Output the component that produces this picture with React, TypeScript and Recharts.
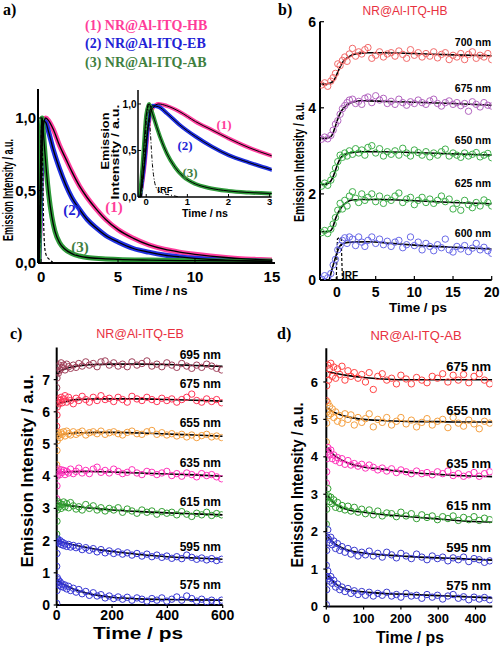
import React from "react";
import { ComposedChart, Line, Scatter, XAxis, YAxis, Label } from "recharts";

const SANS = "'Liberation Sans', Arial, sans-serif";
const SERIF = "'Liberation Serif', 'Times New Roman', serif";
const TITLE_RED = "#e8313f";

// ---------- panel a: TCSPC decays (ns)
const aTimes = [-0.15, -0.05, 0.05, 0.15, 0.3, 0.5, 0.8, 1.2, 1.6, 2.0, 2.5, 3.0, 3.6, 4.2, 5.0, 6.0, 7.0, 8.0, 9.0, 10, 11, 12, 13, 14, 15];
const hbDecay = [0, 0.3, 0.75, 0.95, 1.0, 0.98, 0.92, 0.81, 0.72, 0.63, 0.53, 0.45, 0.37, 0.3, 0.23, 0.17, 0.125, 0.095, 0.075, 0.06, 0.048, 0.038, 0.03, 0.025, 0.02];
const ebDecay = [0, 0.35, 0.8, 0.98, 0.97, 0.9, 0.78, 0.65, 0.54, 0.45, 0.37, 0.3, 0.24, 0.19, 0.145, 0.1, 0.075, 0.055, 0.042, 0.032, 0.025, 0.02, 0.016, 0.013, 0.01];
const abTimes = [-0.15, -0.08, 0.0, 0.07, 0.15, 0.25, 0.35, 0.5, 0.7, 0.9, 1.2, 1.5, 2.0, 2.5, 3.0, 4.0, 5.0, 7.0, 10, 15];
const abDecay = [0, 0.4, 0.88, 1.0, 0.9, 0.76, 0.63, 0.47, 0.32, 0.22, 0.14, 0.1, 0.065, 0.048, 0.038, 0.03, 0.025, 0.02, 0.016, 0.013];
const irfTimesA = [-0.12, -0.06, 0.0, 0.05, 0.1, 0.15, 0.2, 0.27, 0.4, 0.6, 0.8];
const irfA = [0, 0.3, 0.8, 1.0, 0.7, 0.35, 0.17, 0.08, 0.04, 0.02, 0];

// ---------- panel b: NR@Al-ITQ-HB (ps)
const bTimes = [-2, -1.6, -1.2, -0.8, -0.5, -0.2, 0.1, 0.4, 0.7, 1, 1.3, 1.6, 2, 2.4, 2.8, 3.2, 3.6, 4, 4.5, 5, 5.5, 6, 6.5, 7, 7.5, 8, 8.5, 9, 9.5, 10, 10.5, 11, 11.5, 12, 12.5, 13, 13.5, 14, 14.5, 15, 15.5, 16, 16.5, 17, 17.5, 18, 18.5, 19, 19.5, 20];
const b700 = [4.53, 4.58, 4.5, 4.62, 4.7, 4.8, 5.02, 4.98, 5.1, 5.18, 5.08, 5.25, 5.38, 5.2, 5.3, 5.25, 5.35, 5.4, 5.15, 5.22, 5.3, 5.18, 5.25, 5.28, 5.2, 5.32, 5.24, 5.15, 5.35, 5.22, 5.28, 5.18, 5.26, 5.2, 5.3, 5.16, 5.24, 5.28, 5.12, 5.22, 5.18, 5.26, 5.12, 5.24, 5.3, 5.15, 5.22, 5.18, 5.26, 5.12];
const b675 = [3.27, 3.32, 3.28, 3.36, 3.48, 3.62, 3.7, 3.85, 3.98, 4.05, 4.12, 4.18, 4.2, 4.1, 4.15, 4.08, 4.22, 4.25, 4.12, 4.28, 4.18, 4.22, 4.1, 4.15, 4.08, 4.2, 4.12, 4.06, 4.14, 4.1, 4.18, 4.12, 4.08, 4.16, 4.2, 4.1, 4.04, 4.12, 4.16, 4.08, 4.12, 4.05, 4.1, 3.92, 4.14, 4.08, 4.02, 4.12, 4.06, 4.04];
const b650 = [2.18, 2.25, 2.2, 2.32, 2.45, 2.6, 2.75, 2.9, 2.85, 2.95, 2.88, 3.0, 2.92, 3.05, 2.95, 3.02, 2.9, 3.08, 3.12, 2.95, 3.05, 2.88, 2.98, 2.92, 3.0, 2.9, 3.06, 2.95, 2.88, 3.02, 2.96, 2.9, 2.98, 2.86, 2.95, 2.9, 2.98, 3.04, 2.88, 2.95, 2.9, 2.85, 2.95, 2.88, 2.92, 2.96, 2.86, 2.9, 2.94, 2.84];
const b625 = [1.1, 1.15, 1.08, 1.18, 1.3, 1.45, 1.62, 1.78, 1.65, 1.85, 1.72, 1.95, 2.05, 1.9, 1.8, 2.0, 1.85, 1.92, 2.0, 1.82, 1.95, 1.78, 1.9, 1.85, 1.95, 2.02, 1.8, 1.88, 1.92, 1.75, 1.85, 1.92, 1.8, 1.88, 1.78, 1.85, 1.95, 1.82, 1.88, 1.65, 1.78, 1.62, 1.85, 1.75, 1.68, 1.8, 1.72, 1.86, 1.8, 1.72];
const b600 = [0.02, 0.1, 0.05, 0.15, 0.35, 0.48, 0.7, 0.8, 0.92, 0.98, 0.85, 1.0, 0.95, 0.8, 1.0, 0.88, 0.78, 0.92, 1.0, 0.85, 0.95, 0.82, 0.9, 0.78, 0.88, 0.92, 0.75, 0.82, 1.0, 0.8, 0.88, 0.7, 0.85, 0.78, 0.68, 0.82, 0.75, 0.95, 0.7, 0.65, 0.78, 0.72, 0.8, 0.66, 0.74, 0.85, 0.7, 0.76, 0.68, 0.62];
const bFitTimes = [-2, -1.6, -1.2, -0.8, -0.5, -0.2, 0.1, 0.4, 0.7, 1.0, 1.3, 1.6, 2, 3, 4, 6, 10, 15, 20];
const b700Fit = [4.55, 4.55, 4.56, 4.58, 4.62, 4.7, 4.83, 4.95, 5.05, 5.12, 5.16, 5.19, 5.23, 5.27, 5.28, 5.28, 5.26, 5.23, 5.21];
const b675Fit = [3.29, 3.29, 3.3, 3.33, 3.42, 3.58, 3.74, 3.87, 3.96, 4.02, 4.07, 4.1, 4.13, 4.16, 4.16, 4.15, 4.13, 4.1, 4.06];
const b650Fit = [2.22, 2.22, 2.24, 2.3, 2.4, 2.55, 2.7, 2.82, 2.88, 2.92, 2.94, 2.95, 2.96, 2.98, 2.98, 2.98, 2.96, 2.93, 2.9];
const b625Fit = [1.12, 1.12, 1.12, 1.15, 1.25, 1.42, 1.55, 1.64, 1.72, 1.77, 1.81, 1.84, 1.86, 1.87, 1.87, 1.87, 1.84, 1.8, 1.77];
const b600FitTimes = [-1.0, -0.6, -0.3, 0, 0.3, 0.6, 1.0, 2, 4, 7, 10, 15, 20];
const b600Fit = [0, 0.28, 0.46, 0.64, 0.77, 0.83, 0.86, 0.88, 0.89, 0.85, 0.81, 0.76, 0.72];
const irfTimesB = [-0.1, 0, 0.05, 0.3, 0.55, 0.6, 0.7];
const irfB = [0, 0.6, 0.95, 0.99, 0.95, 0.6, 0];

// ---------- panel c: NR@Al-ITQ-EB (ps)
const cTimes = [0, 1, 2, 4, 6, 9, 12, 16, 20, 25, 30, 36, 43, 50, 60, 70, 80, 92, 105, 118, 132, 146, 160, 175, 190, 206, 222, 238, 255, 272, 290, 308, 326, 344, 362, 380, 398, 416, 434, 452, 470, 488, 506, 524, 542, 560, 578, 596];
const c695 = [6.75, 7.05, 7.25, 7.4, 7.2, 7.45, 7.3, 7.52, 7.38, 7.45, 7.3, 7.48, 7.4, 7.35, 7.45, 7.38, 7.5, 7.42, 7.55, 7.45, 7.5, 7.4, 7.55, 7.58, 7.45, 7.52, 7.42, 7.48, 7.4, 7.55, 7.45, 7.5, 7.58, 7.42, 7.48, 7.4, 7.52, 7.45, 7.38, 7.5, 7.42, 7.35, 7.45, 7.38, 7.48, 7.42, 7.35, 7.3];
const c675 = [5.55, 5.9, 6.15, 6.3, 6.4, 6.25, 6.35, 6.45, 6.28, 6.4, 6.5, 6.3, 6.45, 6.35, 6.25, 6.42, 6.35, 6.48, 6.38, 6.3, 6.45, 6.35, 6.5, 6.38, 6.42, 6.32, 6.45, 6.38, 6.3, 6.48, 6.4, 6.35, 6.45, 6.38, 6.32, 6.42, 6.35, 6.4, 6.3, 6.38, 6.45, 6.55, 6.35, 6.3, 6.4, 6.32, 6.38, 6.28];
const c655 = [4.35, 4.8, 5.1, 5.25, 5.35, 5.28, 5.2, 5.35, 5.3, 5.38, 5.25, 5.4, 5.32, 5.28, 5.38, 5.3, 5.35, 5.4, 5.28, 5.35, 5.38, 5.32, 5.4, 5.3, 5.35, 5.38, 5.32, 5.28, 5.36, 5.4, 5.32, 5.3, 5.38, 5.42, 5.3, 5.35, 5.28, 5.32, 5.25, 5.3, 5.22, 5.28, 5.2, 5.26, 5.3, 5.22, 5.25, 5.2];
const c635 = [3.3, 3.7, 4.0, 4.15, 4.22, 4.1, 4.05, 4.2, 4.12, 4.18, 4.05, 4.15, 4.1, 4.22, 4.08, 4.15, 4.25, 4.1, 4.18, 4.08, 4.22, 4.28, 4.12, 4.18, 4.1, 4.22, 4.15, 4.08, 4.12, 4.2, 4.1, 4.05, 4.15, 4.12, 4.05, 4.1, 4.15, 4.02, 4.08, 4.0, 4.1, 4.05, 3.98, 4.08, 4.02, 4.05, 3.98, 3.92];
const c615 = [2.2, 2.6, 2.95, 3.1, 3.2, 3.05, 3.15, 3.0, 3.12, 3.2, 3.05, 3.15, 3.02, 3.18, 3.08, 2.98, 3.05, 2.95, 3.12, 3.0, 3.08, 2.95, 3.02, 2.92, 3.0, 2.95, 3.02, 2.88, 2.98, 2.92, 2.85, 2.95, 2.88, 2.92, 2.82, 2.9, 2.85, 2.88, 2.8, 2.9, 2.82, 2.75, 2.85, 2.8, 2.88, 2.78, 2.84, 2.8];
const c595 = [1.2, 1.6, 1.95, 2.05, 1.98, 1.92, 2.0, 1.88, 1.95, 1.85, 1.9, 1.82, 1.88, 1.8, 1.85, 1.78, 1.82, 1.72, 1.78, 1.7, 1.75, 1.65, 1.72, 1.62, 1.68, 1.6, 1.65, 1.58, 1.62, 1.55, 1.6, 1.52, 1.58, 1.5, 1.55, 1.48, 1.52, 1.45, 1.5, 1.44, 1.55, 1.48, 1.42, 1.46, 1.4, 1.44, 1.38, 1.42];
const c575 = [0.05, 0.45, 0.85, 0.7, 0.78, 0.62, 0.72, 0.58, 0.65, 0.55, 0.62, 0.5, 0.58, 0.45, 0.52, 0.4, 0.48, 0.35, 0.42, 0.3, 0.38, 0.28, 0.32, 0.22, 0.28, 0.2, 0.25, 0.18, 0.24, 0.15, 0.22, 0.18, 0.12, 0.2, 0.15, 0.22, 0.12, 0.18, 0.25, 0.15, 0.28, 0.2, 0.12, 0.18, 0.1, 0.15, 0.08, 0.15];
const cFitTimes = [2, 10, 30, 60, 100, 150, 200, 300, 400, 500, 600];
const c695Fit = [7.15, 7.25, 7.33, 7.4, 7.45, 7.47, 7.48, 7.48, 7.47, 7.44, 7.41];
const c675Fit = [6.2, 6.26, 6.31, 6.37, 6.39, 6.4, 6.4, 6.4, 6.38, 6.36, 6.33];
const c655Fit = [5.2, 5.26, 5.31, 5.34, 5.35, 5.36, 5.36, 5.34, 5.31, 5.28, 5.24];
const c635Fit = [4.08, 4.11, 4.13, 4.14, 4.15, 4.14, 4.13, 4.1, 4.07, 4.04, 4.0];
const c615Fit = [3.15, 3.14, 3.11, 3.07, 3.03, 2.99, 2.95, 2.9, 2.86, 2.83, 2.8];
const c595Fit = [2.0, 1.98, 1.93, 1.87, 1.8, 1.72, 1.66, 1.57, 1.5, 1.46, 1.42];
const c575Fit = [0.78, 0.72, 0.62, 0.5, 0.39, 0.3, 0.24, 0.19, 0.17, 0.16, 0.15];

// ---------- panel d: NR@Al-ITQ-AB (ps)
const dTimes = [0, 1, 2, 4, 6, 9, 12, 16, 20, 25, 30, 36, 42, 50, 58, 66, 75, 85, 95, 105, 115, 126, 138, 150, 162, 175, 188, 200, 214, 228, 242, 256, 270, 284, 298, 312, 326, 340, 354, 368, 382, 396, 410, 424, 438];
const d675 = [5.5, 5.9, 6.2, 6.45, 6.05, 6.35, 6.5, 6.15, 6.4, 6.1, 6.35, 6.2, 6.42, 6.05, 6.3, 6.15, 6.25, 6.1, 6.2, 6.0, 6.25, 5.8, 6.15, 6.22, 6.05, 6.1, 5.95, 6.18, 6.08, 5.95, 6.12, 6.05, 5.98, 6.15, 6.1, 6.22, 6.0, 6.18, 6.05, 6.2, 5.98, 6.15, 6.22, 6.05, 5.95];
const d655 = [4.4, 4.9, 5.2, 5.45, 5.1, 5.35, 5.15, 5.28, 5.05, 5.2, 4.95, 5.1, 4.9, 5.15, 5.0, 5.12, 4.85, 5.05, 4.92, 5.02, 5.15, 4.8, 5.0, 4.92, 5.05, 4.85, 4.95, 5.05, 4.88, 4.98, 4.8, 4.92, 5.02, 4.85, 4.95, 5.0, 4.78, 5.05, 4.9, 4.82, 4.98, 4.88, 4.75, 4.95, 4.9];
const d635 = [3.3, 3.6, 3.95, 4.25, 4.15, 4.05, 4.18, 3.95, 4.05, 3.9, 3.98, 3.85, 3.95, 3.8, 3.9, 3.78, 3.82, 3.75, 3.8, 3.7, 3.78, 3.72, 3.65, 3.7, 3.62, 3.68, 3.58, 3.65, 3.6, 3.55, 3.62, 3.55, 3.58, 3.52, 3.6, 3.55, 3.62, 3.5, 3.55, 3.48, 3.52, 3.58, 3.48, 3.55, 3.6];
const d615 = [2.2, 2.6, 2.9, 3.15, 2.95, 2.8, 2.92, 2.75, 2.85, 2.65, 2.78, 2.62, 2.7, 2.58, 2.68, 2.55, 2.65, 2.52, 2.6, 2.48, 2.58, 2.45, 2.55, 2.42, 2.5, 2.48, 2.4, 2.52, 2.42, 2.48, 2.35, 2.45, 2.38, 2.42, 2.32, 2.4, 2.35, 2.42, 2.3, 2.38, 2.32, 2.4, 2.3, 2.36, 2.32];
const d595 = [1.1, 1.5, 1.85, 2.05, 1.8, 1.7, 1.85, 1.65, 1.75, 1.55, 1.68, 1.5, 1.6, 1.45, 1.55, 1.4, 1.5, 1.35, 1.45, 1.38, 1.48, 1.35, 1.42, 1.32, 1.45, 1.38, 1.3, 1.42, 1.35, 1.28, 1.4, 1.32, 1.25, 1.35, 1.28, 1.32, 1.22, 1.3, 1.25, 1.32, 1.2, 1.28, 1.25, 1.18, 1.22];
const d575 = [0.05, 0.45, 0.8, 0.95, 0.75, 0.68, 0.8, 0.62, 0.7, 0.52, 0.6, 0.45, 0.52, 0.4, 0.48, 0.35, 0.42, 0.32, 0.4, 0.3, 0.38, 0.28, 0.35, 0.3, 0.38, 0.28, 0.32, 0.25, 0.35, 0.28, 0.3, 0.22, 0.32, 0.25, 0.3, 0.2, 0.28, 0.32, 0.22, 0.26, 0.18, 0.25, 0.2, 0.24, 0.18];
const dFitTimes = [5, 15, 30, 60, 100, 150, 200, 250, 300, 350, 445];
const d675Fit = [6.27, 6.25, 6.22, 6.17, 6.12, 6.08, 6.06, 6.06, 6.06, 6.06, 6.06];
const d655Fit = [5.3, 5.22, 5.15, 5.06, 5.0, 4.97, 4.95, 4.94, 4.94, 4.93, 4.93];
const d635Fit = [4.25, 4.1, 3.98, 3.83, 3.73, 3.67, 3.61, 3.56, 3.53, 3.5, 3.47];
const d615Fit = [2.95, 2.82, 2.7, 2.58, 2.52, 2.46, 2.42, 2.38, 2.34, 2.3, 2.25];
const d595Fit = [1.85, 1.75, 1.63, 1.5, 1.43, 1.38, 1.35, 1.32, 1.3, 1.28, 1.24];
const d575Fit = [0.82, 0.7, 0.57, 0.45, 0.39, 0.35, 0.33, 0.31, 0.29, 0.27, 0.23];

type Pt = { t: number; v: number };
const pts = (ts: number[], vs: number[]): Pt[] => ts.map((t, i) => ({ t, v: vs[i] }));

const PINK = "#ff3f9f";
const BLUE = "#2030e0";
const GREEN = "#2f9a3a";

const decays = [
  { color: PINK, data: pts(aTimes, hbDecay) },
  { color: BLUE, data: pts(aTimes, ebDecay) },
  { color: GREEN, data: pts(abTimes, abDecay) },
];

type Trace = { color: string; data: Pt[]; fit: Pt[] };

const tracesB: Trace[] = [
  { color: "#f26a6a", data: pts(bTimes, b700), fit: pts(bFitTimes, b700Fit) },
  { color: "#b365c0", data: pts(bTimes, b675), fit: pts(bFitTimes, b675Fit) },
  { color: "#3fb04a", data: pts(bTimes, b650), fit: pts(bFitTimes, b650Fit) },
  { color: "#3fb04a", data: pts(bTimes, b625), fit: pts(bFitTimes, b625Fit) },
  { color: "#6a6ae8", data: pts(bTimes, b600), fit: pts(b600FitTimes, b600Fit) },
];
const tracesC: Trace[] = [
  { color: "#a0405a", data: pts(cTimes, c695), fit: pts(cFitTimes, c695Fit) },
  { color: "#ff3355", data: pts(cTimes, c675), fit: pts(cFitTimes, c675Fit) },
  { color: "#f5a040", data: pts(cTimes, c655), fit: pts(cFitTimes, c655Fit) },
  { color: "#ff33bb", data: pts(cTimes, c635), fit: pts(cFitTimes, c635Fit) },
  { color: "#33a033", data: pts(cTimes, c615), fit: pts(cFitTimes, c615Fit) },
  { color: "#3535d5", data: pts(cTimes, c595), fit: pts(cFitTimes, c595Fit) },
  { color: "#3535d5", data: pts(cTimes, c575), fit: pts(cFitTimes, c575Fit) },
];
const tracesD: Trace[] = [
  { color: "#ff4444", data: pts(dTimes, d675), fit: pts(dFitTimes, d675Fit) },
  { color: "#f5a040", data: pts(dTimes, d655), fit: pts(dFitTimes, d655Fit) },
  { color: "#ff33bb", data: pts(dTimes, d635), fit: pts(dFitTimes, d635Fit) },
  { color: "#33a033", data: pts(dTimes, d615), fit: pts(dFitTimes, d615Fit) },
  { color: "#3a3ad0", data: pts(dTimes, d595), fit: pts(dFitTimes, d595Fit) },
  { color: "#3a3ad0", data: pts(dTimes, d575), fit: pts(dFitTimes, d575Fit) },
];

const commaFmt = (v: number) => v.toFixed(1).replace(".", ",");

function tickText(size: number, anchor: "middle" | "end", dx: number, dy: number, fmt?: (v: number) => string) {
  return (p: any) => (
    <text x={p.x + dx} y={p.y + dy} textAnchor={anchor} fontSize={size} fontWeight="bold" fontFamily={SANS} fill="#000">
      {fmt ? fmt(p.payload.value) : p.payload.value}
    </text>
  );
}

type TitleSpec = { text: string; x: number; y: number; size: number; len: number };

function axisTitle(s: TitleSpec, vertical: boolean) {
  return () => (
    <text
      x={s.x}
      y={s.y}
      transform={vertical ? `rotate(-90 ${s.x} ${s.y})` : undefined}
      textAnchor="middle"
      dominantBaseline="central"
      fontSize={s.size}
      fontWeight="bold"
      fontFamily={SANS}
      textLength={s.len}
      lengthAdjust="spacingAndGlyphs"
      fill="#000"
    >
      {s.text}
    </text>
  );
}

function ring(color: string, r: number) {
  return (p: any) => <circle cx={p.cx} cy={p.cy} r={r} fill="none" stroke={color} strokeWidth={1} />;
}

const frameLine = { stroke: "#000", strokeWidth: 2 };

function DecayMain() {
  return (
    <div style={{ position: "absolute", left: 0, top: 80 }}>
      <ComposedChart width={284} height={222} margin={{ top: 9, right: 9, left: 0, bottom: 0 }}>
        <XAxis dataKey="t" type="number" domain={[-0.2, 15.2]} allowDataOverflow ticks={[0, 5, 10, 15]} interval={0}
          height={39} tickSize={-4} tickMargin={0} axisLine={frameLine} tickLine={{ stroke: "#000" }}
          tick={tickText(15, "middle", 0, 23.4)}>
          <Label content={axisTitle({ text: "Time / ns", x: 160, y: 210, size: 13, len: 55 }, false)} />
        </XAxis>
        <XAxis xAxisId="top" orientation="top" type="number" domain={[0, 1]} height={0} tick={false} tickLine={false} axisLine={frameLine} />
        <YAxis dataKey="v" type="number" domain={[0, 1.2]} allowDataOverflow ticks={[0, 0.5, 1]} interval={0}
          width={38} tickSize={-4} tickMargin={0} axisLine={frameLine} tickLine={{ stroke: "#000" }}
          tick={tickText(15, "end", -6, 5.4, commaFmt)}>
          <Label content={axisTitle({ text: "Emission Intensity / a.u.", x: 8, y: 110, size: 14, len: 102 }, true)} />
        </YAxis>
        <YAxis yAxisId="right" orientation="right" type="number" domain={[0, 1]} width={0} tick={false} tickLine={false} axisLine={frameLine} />
        {decays.map((d, i) => (
          <Line key={"band" + i} data={d.data} dataKey="v" type="monotone" stroke={d.color} strokeWidth={5} dot={false} isAnimationActive={false} />
        ))}
        {decays.map((d, i) => (
          <Line key={"fit" + i} data={d.data} dataKey="v" type="monotone" stroke="#000" strokeWidth={1.3} dot={false} isAnimationActive={false} />
        ))}
        <Line data={pts(irfTimesA, irfA)} dataKey="v" type="monotone" stroke="#000" strokeWidth={1.2} strokeDasharray="3 2" dot={false} isAnimationActive={false} />
      </ComposedChart>
    </div>
  );
}

function DecayInset() {
  return (
    <div style={{ position: "absolute", left: 94, top: 85 }}>
      <ComposedChart width={182} height={134} margin={{ top: 5, right: 4.3, left: 0, bottom: 0 }}>
        <XAxis dataKey="t" type="number" domain={[-0.2, 3.05]} allowDataOverflow ticks={[0, 1, 2, 3]} interval={0}
          height={22} tickSize={-3} tickMargin={0} axisLine={{ stroke: "#000", strokeWidth: 1.5 }} tickLine={{ stroke: "#000" }}
          tick={tickText(9.5, "middle", 0, 11)}>
          <Label content={axisTitle({ text: "Time / ns", x: 111, y: 128, size: 11, len: 46 }, false)} />
        </XAxis>
        <XAxis xAxisId="top" orientation="top" type="number" domain={[0, 1]} height={0} tick={false} tickLine={false} axisLine={{ stroke: "#000", strokeWidth: 1.5 }} />
        <YAxis dataKey="v" type="number" domain={[0, 1.15]} allowDataOverflow ticks={[0, 0.5, 1]} interval={0}
          width={44} tickSize={-3} tickMargin={0} axisLine={{ stroke: "#000", strokeWidth: 1.5 }} tickLine={{ stroke: "#000" }}
          tick={tickText(10, "end", -4.5, 3.6, commaFmt)}>
          <Label content={() => (
            <g>
              {axisTitle({ text: "Emission", x: 11, y: 56, size: 11, len: 57 }, true)()}
              {axisTitle({ text: "Intensity / a.u.", x: 21, y: 67, size: 11, len: 95 }, true)()}
            </g>
          )} />
        </YAxis>
        <YAxis yAxisId="right" orientation="right" type="number" domain={[0, 1]} width={0} tick={false} tickLine={false} axisLine={{ stroke: "#000", strokeWidth: 1.5 }} />
        {decays.map((d, i) => (
          <Line key={"band" + i} data={d.data} dataKey="v" type="monotone" stroke={d.color} strokeWidth={4} dot={false} isAnimationActive={false} />
        ))}
        {decays.map((d, i) => (
          <Line key={"fit" + i} data={d.data} dataKey="v" type="monotone" stroke="#000" strokeWidth={1} dot={false} isAnimationActive={false} />
        ))}
        <Line data={pts(irfTimesA, irfA)} dataKey="v" type="monotone" stroke="#000" strokeWidth={1} strokeDasharray="4 2 1 2" dot={false} isAnimationActive={false} />
      </ComposedChart>
    </div>
  );
}

type PanelProps = {
  left: number; top: number; width: number; height: number;
  margin: { top: number; right: number; left: number; bottom: number };
  yAxisWidth: number; xAxisHeight: number;
  xDomain: [number, number]; yDomain: [number, number];
  xTicks: number[]; yTicks: number[];
  tickSize: number; tickFont: number; xTickDy: number; yTickDx: number;
  xTitle: TitleSpec; yTitle: TitleSpec;
  traces: Trace[]; radius: number; frameTop: boolean; frameRight: boolean;
  irf?: Pt[];
};

function ScanPanel(p: PanelProps) {
  return (
    <div style={{ position: "absolute", left: p.left, top: p.top }}>
      <ComposedChart width={p.width} height={p.height} margin={p.margin}>
        <XAxis dataKey="t" type="number" domain={p.xDomain} allowDataOverflow ticks={p.xTicks} interval={0}
          height={p.xAxisHeight} tickSize={p.tickSize} tickMargin={0} axisLine={frameLine} tickLine={{ stroke: "#000", strokeWidth: 1.2 }}
          tick={tickText(p.tickFont, "middle", 0, p.xTickDy)}>
          <Label content={axisTitle(p.xTitle, false)} />
        </XAxis>
        {p.frameTop && (
          <XAxis xAxisId="top" orientation="top" type="number" domain={[0, 1]} height={0} tick={false} tickLine={false} axisLine={frameLine} />
        )}
        <YAxis dataKey="v" type="number" domain={p.yDomain} allowDataOverflow ticks={p.yTicks} interval={0}
          width={p.yAxisWidth} tickSize={p.tickSize} tickMargin={0} axisLine={frameLine} tickLine={{ stroke: "#000", strokeWidth: 1.2 }}
          tick={tickText(p.tickFont, "end", p.yTickDx, p.tickFont * 0.36)}>
          <Label content={axisTitle(p.yTitle, true)} />
        </YAxis>
        {p.frameRight && (
          <YAxis yAxisId="right" orientation="right" type="number" domain={[0, 1]} width={0} tick={false} tickLine={false} axisLine={frameLine} />
        )}
        {p.traces.map((tr, i) => (
          <Scatter key={"s" + i} data={tr.data} dataKey="v" shape={ring(tr.color, p.radius)} isAnimationActive={false} />
        ))}
        {p.traces.map((tr, i) => (
          <Line key={"f" + i} data={tr.fit} dataKey="v" type="monotone" stroke="#000" strokeWidth={1.6} dot={false} isAnimationActive={false} />
        ))}
        {p.irf && (
          <Line data={p.irf} dataKey="v" type="linear" stroke="#000" strokeWidth={1.2} strokeDasharray="3 2" dot={false} isAnimationActive={false} />
        )}
      </ComposedChart>
    </div>
  );
}

function Overlay() {
  const letter = (t: string, x: number, y: number) => (
    <text x={x} y={y} fontFamily={SERIF} fontWeight="bold" fontSize={16} fill="#000">{t}</text>
  );
  const title = (t: string, x: number, y: number, size: number) => (
    <text x={x} y={y} textAnchor="middle" fontFamily={SANS} fontSize={size} fill={TITLE_RED}>{t}</text>
  );
  const nm = (t: string, x: number, y: number, size: number) => (
    <text x={x} y={y} textAnchor="end" fontFamily={SANS} fontWeight="bold" fontSize={size} fill="#000">{t}</text>
  );
  const tag = (t: string, x: number, y: number, size: number, color: string) => (
    <text x={x} y={y} textAnchor="middle" fontFamily={SERIF} fontWeight="bold" fontSize={size} fill={color}>{t}</text>
  );
  return (
    <svg width={501} height={648} style={{ position: "absolute", left: 0, top: 0, pointerEvents: "none" }}>
      {letter("a)", 3, 15)}
      <text x={85} y={30} fontFamily={SERIF} fontWeight="bold" fontSize={14} fill="#ff3d9a">(1) NR@Al-ITQ-HB</text>
      <text x={85} y={48} fontFamily={SERIF} fontWeight="bold" fontSize={14} fill="#2222d6">(2) NR@Al-ITQ-EB</text>
      <text x={85} y={67} fontFamily={SERIF} fontWeight="bold" fontSize={14} fill="#3f7f3f">(3) NR@Al-ITQ-AB</text>
      {tag("(1)", 114, 212, 15, "#ff3d9a")}
      {tag("(2)", 72, 215, 15, "#2222d6")}
      {tag("(3)", 80, 252, 15, "#3f7f3f")}
      {tag("(1)", 224, 129, 13, "#ff3d9a")}
      {tag("(2)", 185, 150, 13, "#2222d6")}
      {tag("(3)", 190, 177, 13, "#3f7f3f")}
      <text x={165} y={192.5} textAnchor="middle" fontFamily={SANS} fontWeight="bold" fontSize={9.5} fill="#000">IRF</text>

      {letter("b)", 278, 15)}
      {title("NR@Al-ITQ-HB", 405, 15, 12)}
      {nm("700 nm", 491, 45.7, 10.5)}
      {nm("675 nm", 491, 91.7, 10.5)}
      {nm("650 nm", 491, 143.7, 10.5)}
      {nm("625 nm", 491, 186.7, 10.5)}
      {nm("600 nm", 491, 236.7, 10.5)}
      <text x={350} y={278.5} textAnchor="middle" fontFamily={SANS} fontWeight="bold" fontSize={10} fill="#000">IRF</text>

      {letter("c)", 10, 339)}
      {title("NR@Al-ITQ-EB", 140, 337.5, 12.5)}
      {nm("695 nm", 221, 359.3, 12)}
      {nm("675 nm", 221, 388.3, 12)}
      {nm("655 nm", 221, 427.3, 12)}
      {nm("635 nm", 221, 467.3, 12)}
      {nm("615 nm", 221, 506.3, 12)}
      {nm("595 nm", 221, 551.3, 12)}
      {nm("575 nm", 221, 589.3, 12)}

      {letter("d)", 277, 339)}
      {title("NR@Al-ITQ-AB", 416, 339.5, 13)}
      {nm("675 nm", 491, 370.7, 13)}
      {nm("655 nm", 491, 414.7, 13)}
      {nm("635 nm", 491, 467.7, 13)}
      {nm("615 nm", 491, 509.7, 13)}
      {nm("595 nm", 491, 551.7, 13)}
      {nm("575 nm", 491, 589.7, 13)}
    </svg>
  );
}

export default function App() {
  return (
    <div style={{ position: "absolute", left: 0, top: 0, width: 501, height: 648, background: "#fff" }}>
      <DecayMain />
      <DecayInset />
      <ScanPanel
        left={285} top={0} width={216} height={316}
        margin={{ top: 21.7, right: 9.3, left: 0, bottom: 0 }}
        yAxisWidth={35} xAxisHeight={36}
        xDomain={[-2.2, 20]} yDomain={[0, 6]}
        xTicks={[0, 5, 10, 15, 20]} yTicks={[0, 2, 4, 6]}
        tickSize={-4} tickFont={14} xTickDy={20.7} yTickDx={-8}
        xTitle={{ text: "Time / ps", x: 133, y: 307, size: 13, len: 58 }}
        yTitle={{ text: "Emission Intensity / a.u.", x: 14, y: 162, size: 14, len: 120 }}
        traces={tracesB} radius={3.2} frameTop={true} frameRight={true}
        irf={pts(irfTimesB, irfB)}
      />
      <ScanPanel
        left={14} top={340} width={226} height={308}
        margin={{ top: 7.4, right: 17.3, left: 0, bottom: 0 }}
        yAxisWidth={42.7} xAxisHeight={43}
        xDomain={[0, 600]} yDomain={[0, 8]}
        xTicks={[0, 200, 400, 600]} yTicks={[0, 1, 2, 3, 4, 5, 6, 7]}
        tickSize={3} tickFont={14} xTickDy={12} yTickDx={-3.7}
        xTitle={{ text: "Time / ps", x: 124, y: 293, size: 16, len: 90 }}
        yTitle={{ text: "Emission Intensity / a.u.", x: 13, y: 131, size: 17, len: 193 }}
        traces={tracesC} radius={3.2} frameTop={false} frameRight={false}
      />
      <ScanPanel
        left={280} top={340} width={218} height={308}
        margin={{ top: 8.3, right: 5.7, left: 0, bottom: 0 }}
        yAxisWidth={46.3} xAxisHeight={41.5}
        xDomain={[0, 445]} yDomain={[0, 6.9]}
        xTicks={[0, 100, 200, 300, 400]} yTicks={[0, 1, 2, 3, 4, 5, 6]}
        tickSize={3} tickFont={13} xTickDy={13.2} yTickDx={-5.3}
        xTitle={{ text: "Time / ps", x: 130, y: 297, size: 16, len: 68 }}
        yTitle={{ text: "Emission Intensity / a.u.", x: 17, y: 145, size: 16, len: 165 }}
        traces={tracesD} radius={3.2} frameTop={false} frameRight={true}
      />
      <Overlay />
    </div>
  );
}
